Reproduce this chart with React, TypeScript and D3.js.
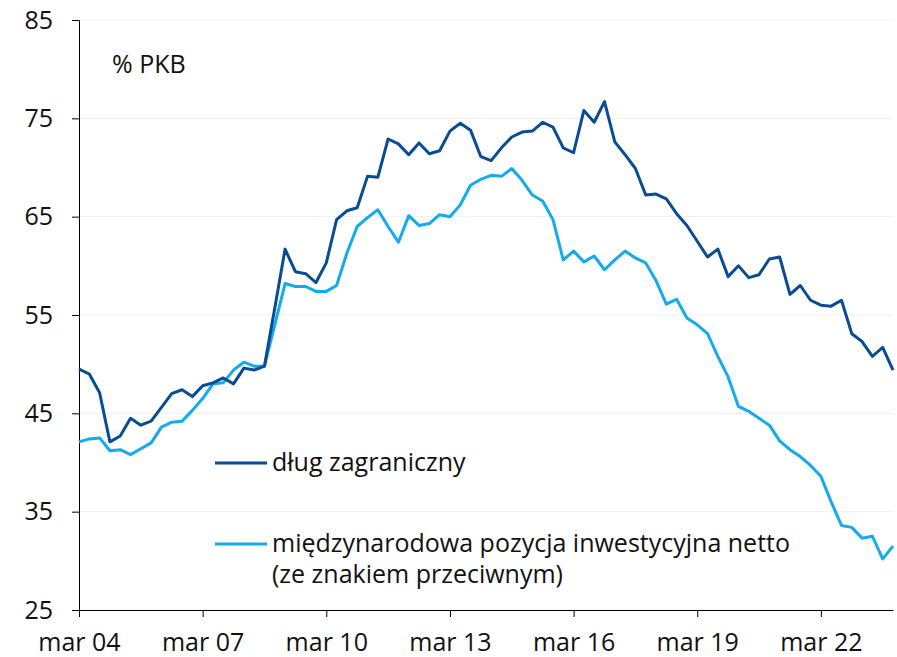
import { axisBottom, axisLeft, line, scaleLinear, select } from "d3";
import React, { useEffect, useRef } from "react";

// kwartalnie, mar 04 .. gru 23
const dlugZagraniczny = [
  49.5, 49.0, 47.1, 42.1, 42.7, 44.5, 43.8, 44.2, 45.6, 47.0,
  47.4, 46.7, 47.8, 48.1, 48.6, 48.0, 49.6, 49.4, 49.8, 55.7,
  61.7, 59.4, 59.2, 58.3, 60.3, 64.7, 65.6, 65.9, 69.1, 69.0,
  72.9, 72.4, 71.3, 72.5, 71.4, 71.7, 73.7, 74.5, 73.8, 71.1,
  70.7, 72.0, 73.1, 73.6, 73.7, 74.6, 74.1, 72.0, 71.5, 75.8,
  74.6, 76.7, 72.6, 71.3, 69.9, 67.2, 67.3, 66.8, 65.3, 64.1,
  62.5, 60.9, 61.7, 58.9, 60.0, 58.8, 59.1, 60.7, 60.9, 57.1,
  58.0, 56.5, 56.0, 55.9, 56.5, 53.1, 52.3, 50.8, 51.7, 49.4,
];

const miipNetto = [
  42.1, 42.4, 42.5, 41.2, 41.3, 40.8, 41.4, 42.0, 43.6, 44.1,
  44.2, 45.3, 46.5, 48.0, 48.1, 49.4, 50.2, 49.8, 49.8, 54.0,
  58.2, 57.9, 57.9, 57.4, 57.4, 58.0, 61.3, 64.0, 64.9, 65.7,
  64.0, 62.4, 65.1, 64.1, 64.3, 65.2, 65.0, 66.2, 68.2, 68.8,
  69.2, 69.1, 69.9, 68.7, 67.2, 66.6, 64.7, 60.6, 61.5, 60.4,
  61.0, 59.6, 60.6, 61.5, 60.8, 60.3, 58.5, 56.1, 56.6, 54.7,
  54.0, 53.1, 50.8, 48.7, 45.7, 45.2, 44.5, 43.8, 42.2, 41.3,
  40.6, 39.7, 38.6, 36.0, 33.6, 33.4, 32.3, 32.5, 30.2, 31.5,
];

const xTickLabels = ["mar 04", "mar 07", "mar 10", "mar 13", "mar 16", "mar 19", "mar 22"];
const yTicks = [25, 35, 45, 55, 65, 75, 85];

const DARK = "#0a4c94";
const LIGHT = "#12abee";
const FONT = "'Open Sans', sans-serif";
const FS = 25;

export default function App() {
  const ref = useRef<SVGSVGElement>(null);

  const width = 897;
  const height = 657;
  const margin = { top: 20, right: 4, bottom: 47, left: 79 };

  useEffect(() => {
    const svg = select(ref.current);
    svg.selectAll("*").remove();

    const x = scaleLinear()
      .domain([0, dlugZagraniczny.length - 1])
      .range([margin.left, width - margin.right]);

    const y = scaleLinear()
      .domain([25, 85])
      .range([height - margin.bottom, margin.top]);

    // siatka
    svg
      .append("g")
      .selectAll("line")
      .data(yTicks)
      .join("line")
      .attr("x1", margin.left)
      .attr("x2", width - margin.right)
      .attr("y1", (d) => y(d))
      .attr("y2", (d) => y(d))
      .attr("stroke", "#efefef")
      .attr("stroke-width", 1);

    const yAxis = (g) =>
      g
        .attr("transform", `translate(${margin.left},0)`)
        .call(axisLeft(y).tickValues(yTicks).tickSize(7).tickPadding(19).tickFormat((d) => String(d)))
        .call((g) => g.select(".domain").attr("stroke", "#000"))
        .call((g) => g.selectAll("text").attr("font-family", FONT).attr("font-size", FS).attr("fill", "#111"));

    const xAxis = (g) =>
      g
        .attr("transform", `translate(0,${height - margin.bottom})`)
        .call(
          axisBottom(x)
            .tickValues(xTickLabels.map((_, i) => i * 12))
            .tickSize(7)
            .tickSizeOuter(0)
            .tickPadding(16)
            .tickFormat((d, i) => xTickLabels[i])
        )
        .call((g) => g.selectAll("text").attr("font-family", FONT).attr("font-size", FS).attr("fill", "#111"));

    svg.append("g").call(yAxis);
    svg.append("g").call(xAxis);

    const path = line<number>()
      .x((d, i) => x(i))
      .y((d) => y(d));

    svg
      .append("path")
      .datum(miipNetto)
      .attr("fill", "none")
      .attr("stroke", LIGHT)
      .attr("stroke-width", 3)
      .attr("stroke-linejoin", "round")
      .attr("d", path);

    svg
      .append("path")
      .datum(dlugZagraniczny)
      .attr("fill", "none")
      .attr("stroke", DARK)
      .attr("stroke-width", 3)
      .attr("stroke-linejoin", "round")
      .attr("d", path);

    // opis jednostki
    svg
      .append("text")
      .attr("x", 112)
      .attr("y", 73)
      .attr("font-family", FONT)
      .attr("font-size", FS)
      .attr("fill", "#111")
      .text("% PKB");

    // legenda
    const legend = [
      { color: DARK, lines: ["dług zagraniczny"], y: 463 },
      { color: LIGHT, lines: ["międzynarodowa pozycja inwestycyjna netto", "(ze znakiem przeciwnym)"], y: 544 },
    ];

    const lg = svg.append("g");
    legend.forEach((item) => {
      lg.append("line")
        .attr("x1", 215)
        .attr("x2", 267)
        .attr("y1", item.y)
        .attr("y2", item.y)
        .attr("stroke", item.color)
        .attr("stroke-width", 3);
      item.lines.forEach((t, j) => {
        lg.append("text")
          .attr("x", 272)
          .attr("y", item.y + 8 + j * 31)
          .attr("font-family", FONT)
          .attr("font-size", FS)
          .attr("fill", "#111")
          .text(t);
      });
    });
  }, []);

  return (
    <svg
      ref={ref}
      width={width}
      height={height}
      style={{ position: "absolute", left: 0, top: 0, background: "#fff" }}
    ></svg>
  );
}
